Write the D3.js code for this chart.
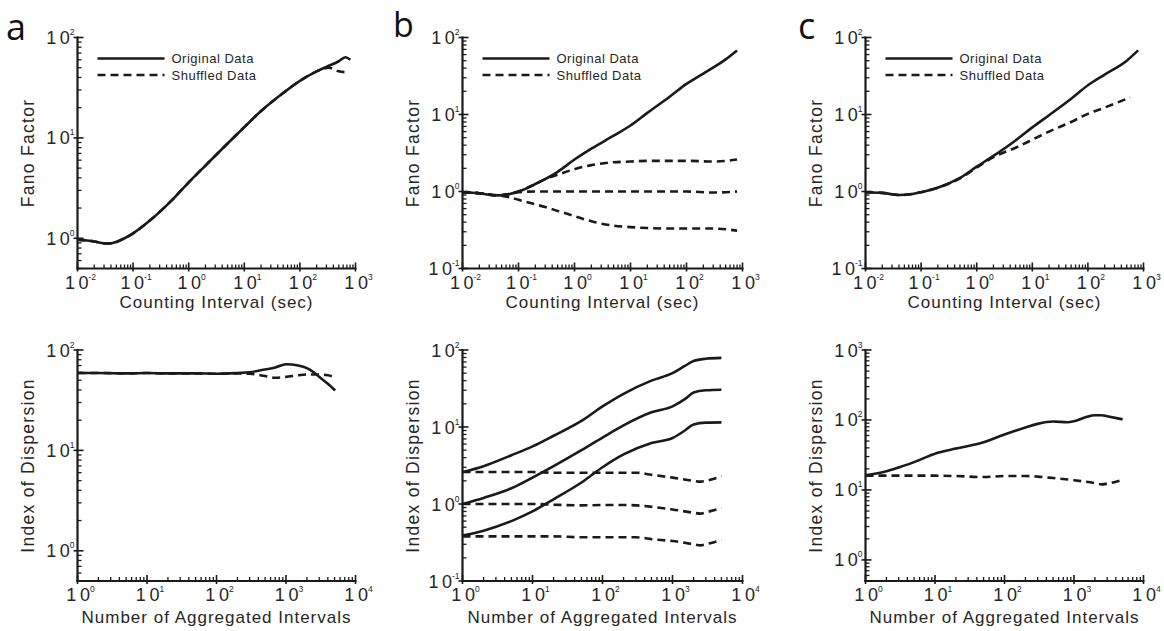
<!DOCTYPE html>
<html><head><meta charset="utf-8">
<script src="https://cdn.jsdelivr.net/npm/d3@7"></script>
<style>
body{margin:0;background:#fff;}
svg{display:block;font-family:"Liberation Sans",Arial,sans-serif;}
</style></head>
<body><svg id="c" width="1164" height="631"></svg>
<script>
// ---------------- DATA ----------------
const panelLetters = ["a", "b", "c"];
const legendLabels = ["Original Data", "Shuffled Data"];
const topXTitle = "Counting Interval (sec)";
const topYTitle = "Fano Factor";
const botXTitle = "Number of Aggregated Intervals";
const botYTitle = "Index of Dispersion";
const topXDomain = [0.01, 1000];
const botXDomain = [1, 10000];
const topXExps = [-2, -1, 0, 1, 2, 3];
const botXExps = [0, 1, 2, 3, 4];
const yDomains = [[0.5, 100], [0.1, 100], [0.1, 100], [0.5, 100], [0.1, 100], [0.5, 1000]];
const yExps = [[0, 1, 2], [-1, 0, 1, 2], [-1, 0, 1, 2], [0, 1, 2], [-1, 0, 1, 2], [0, 1, 2, 3]];

// panel a, Fano factor
const aTopOrigX = [0.01,0.015,0.02,0.03,0.04,0.05,0.07,0.1,0.2,0.5,1,2,5,10,20,50,100,200,300,500,660,810];
const aTopOrigY = [0.97,0.95,0.93,0.89,0.89,0.92,1.0,1.12,1.5,2.4,3.6,5.3,8.8,12.8,18.5,28,37,46,51,58,63.5,60];
const aTopShufX = [0.01,0.015,0.02,0.03,0.04,0.05,0.07,0.1,0.2,0.5,1,2,5,10,20,50,100,200,330,500,710];
const aTopShufY = [0.97,0.95,0.93,0.89,0.89,0.92,1.0,1.12,1.5,2.4,3.6,5.3,8.8,12.8,18.5,28,37,46,50,46,45];
// panel b, Fano factor
const bTopOrigX = [0.01,0.02,0.03,0.045,0.07,0.1,0.2,0.5,1,2,5,10,20,50,100,200,500,800];
const bTopOrigY = [0.98,0.95,0.91,0.89,0.93,1.0,1.25,1.8,2.6,3.6,5.3,7.2,10.5,17,25,34,52,68];
const bTopShufHighX = [0.01,0.02,0.03,0.045,0.07,0.1,0.2,0.3,0.5,1,2,5,10,20,50,100,300,500,800];
const bTopShufHighY = [0.98,0.95,0.91,0.89,0.93,1.0,1.25,1.45,1.65,1.95,2.2,2.4,2.45,2.5,2.5,2.5,2.45,2.5,2.6];
const bTopShufMidX = [0.01,0.02,0.03,0.045,0.07,0.1,0.2,0.5,1,10,100,300,800];
const bTopShufMidY = [0.98,0.95,0.91,0.89,0.93,0.98,1.0,1.0,1.0,1.0,1.0,0.97,1.0];
const bTopShufLowX = [0.01,0.02,0.03,0.045,0.07,0.1,0.2,0.3,0.5,1,2,5,10,20,50,100,300,800];
const bTopShufLowY = [0.98,0.95,0.91,0.89,0.84,0.78,0.68,0.63,0.56,0.48,0.41,0.36,0.345,0.335,0.33,0.33,0.33,0.31];
// panel c, Fano factor
const cTopOrigX = [0.01,0.02,0.04,0.07,0.1,0.2,0.5,1,2,5,10,20,50,100,200,500,800];
const cTopOrigY = [0.98,0.96,0.9,0.93,0.98,1.12,1.5,2.1,2.9,4.6,6.8,9.8,16,24,33,50,68];
const cTopShufX = [0.01,0.02,0.04,0.07,0.1,0.2,0.5,1,2,5,10,20,50,100,200,575];
const cTopShufY = [0.98,0.96,0.9,0.93,0.98,1.12,1.48,2.05,2.8,3.7,4.7,6.0,8.0,10.2,12.3,16.7];
// panel a, index of dispersion
const aBotOrigX = [1,2,5,10,20,50,100,200,300,500,700,1000,1500,2000,2500,3000,4000,5100];
const aBotOrigY = [59,59,58.5,59,58.5,58.5,58,59,60,64,67,72,70,66,60,54,46,39.5];
const aBotShufX = [1,2,5,10,20,50,100,200,300,500,700,1000,1500,2000,3000,4000,5000];
const aBotShufY = [59,59,58.5,59,58.5,58.5,58,58.5,58,55,53,54,56,57,57,56,54];
// panel b, index of dispersion
const bBotOrigX = [1,2,5,10,20,50,100,200,500,1000,1500,2000,3000,5000];
const bBotOrigHighY = [2.6,3.1,4.3,5.6,7.7,12,18.5,27,40,50,62,72,77,79];
const bBotOrigMidY = [1.0,1.2,1.6,2.2,3.1,5.0,7.3,10.5,15.5,18.5,23,28,30,30.5];
const bBotOrigLowY = [0.39,0.45,0.6,0.8,1.15,1.9,3.0,4.4,6.2,7.2,9,10.8,11.4,11.5];
const bBotShufX = [1,2,5,10,20,50,100,200,300,500,1000,2000,2500,3000,5000];
const bBotShufHighY = [2.6,2.6,2.6,2.6,2.55,2.55,2.55,2.55,2.55,2.4,2.2,2.0,1.95,2.0,2.3];
const bBotShufMidY = [1.0,1.0,1.0,1.0,0.98,0.96,0.97,0.97,0.96,0.92,0.85,0.77,0.75,0.78,0.88];
const bBotShufLowY = [0.38,0.38,0.38,0.38,0.38,0.37,0.37,0.37,0.37,0.35,0.33,0.3,0.29,0.3,0.34];
// panel c, index of dispersion
const cBotOrigX = [1,2,3,5,10,20,50,100,200,300,500,800,1000,1500,2000,2500,3000,5000];
const cBotOrigY = [16.2,18.5,21,25,33,39,48,62,78,88,95,93,96,110,117,117,113,102];
const cBotShufX = [1,10,20,50,100,200,300,500,1000,2000,2500,3000,5000];
const cBotShufY = [16,16,15.8,15.3,15.8,15.8,15.5,14.8,13.8,12.5,12,12.3,14];

// ---------------- LAYOUT ----------------
const cols = [[77.5, 355.5], [462.5, 742.5], [865.5, 1143.5]];
const rows = [[37.5, 268.5], [350, 581]];
const INK = "#1a1a1a", TXT = "#262626";

const svg = d3.select("#c");

const zip = (xs, ys) => xs.map((x, i) => [x, ys[i]]);

const panels = [
  {col:0,row:0, xd:topXDomain, xe:topXExps, yi:0, series:[[aTopOrigX,aTopOrigY,false],[aTopShufX,aTopShufY,true]], legend:true},
  {col:1,row:0, xd:topXDomain, xe:topXExps, yi:1, series:[[bTopShufHighX,bTopShufHighY,true],[bTopShufMidX,bTopShufMidY,true],[bTopShufLowX,bTopShufLowY,true],[bTopOrigX,bTopOrigY,false]], legend:true},
  {col:2,row:0, xd:topXDomain, xe:topXExps, yi:2, series:[[cTopShufX,cTopShufY,true],[cTopOrigX,cTopOrigY,false]], legend:true},
  {col:0,row:1, xd:botXDomain, xe:botXExps, yi:3, series:[[aBotShufX,aBotShufY,true],[aBotOrigX,aBotOrigY,false]]},
  {col:1,row:1, xd:botXDomain, xe:botXExps, yi:4, series:[[bBotShufX,bBotShufHighY,true],[bBotShufX,bBotShufMidY,true],[bBotShufX,bBotShufLowY,true],[bBotOrigX,bBotOrigHighY,false],[bBotOrigX,bBotOrigMidY,false],[bBotOrigX,bBotOrigLowY,false]]},
  {col:2,row:1, xd:botXDomain, xe:botXExps, yi:5, series:[[cBotShufX,cBotShufY,true],[cBotOrigX,cBotOrigY,false]]}
];

function minorValues(domain) {
  const out = [];
  const e0 = Math.floor(Math.log10(domain[0])), e1 = Math.ceil(Math.log10(domain[1]));
  for (let e = e0; e < e1; e++) for (let m = 2; m <= 9; m++) {
    const v = m * Math.pow(10, e);
    if (v >= domain[0] * 0.999 && v <= domain[1] * 1.001) out.push(v);
  }
  return out;
}

function powLabel(sel, exp, anchor) {
  const t = sel.append("text").attr("text-anchor", anchor).attr("fill", TXT);
  t.append("tspan").attr("font-size", 18).text("1");
  t.append("tspan").attr("font-size", 18).attr("dx", 3.5).text("0");
  t.append("tspan").attr("font-size", 8.5).attr("dy", -9).text(String(exp));
  return t;
}

panels.forEach(p => {
  const [x0, x1] = cols[p.col];
  const [y0, y1] = rows[p.row];
  const x = d3.scaleLog().domain(p.xd).range([x0, x1]);
  const y = d3.scaleLog().domain(yDomains[p.yi]).range([y1, y0]);
  const g = svg.append("g");

  // axes lines
  g.append("line").attr("x1", x0).attr("x2", x0).attr("y1", y0 - 1).attr("y2", y1 + 1)
    .attr("stroke", INK).attr("stroke-width", 2.2);
  g.append("line").attr("x1", x0 - 1).attr("x2", x1 + 1).attr("y1", y1).attr("y2", y1)
    .attr("stroke", INK).attr("stroke-width", 2.2);

  // minor ticks
  minorValues(p.xd).forEach(v => {
    g.append("line").attr("x1", x(v)).attr("x2", x(v)).attr("y1", y1).attr("y2", y1 - 4)
      .attr("stroke", INK).attr("stroke-width", 1.3);
  });
  minorValues(yDomains[p.yi]).forEach(v => {
    g.append("line").attr("y1", y(v)).attr("y2", y(v)).attr("x1", x0).attr("x2", x0 + 4)
      .attr("stroke", INK).attr("stroke-width", 1.3);
  });
  // major ticks + labels
  p.xe.forEach(e => {
    const v = Math.pow(10, e);
    g.append("line").attr("x1", x(v)).attr("x2", x(v)).attr("y1", y1 + 3).attr("y2", y1 - 6)
      .attr("stroke", INK).attr("stroke-width", 1.6);
    powLabel(g, e, "middle").attr("x", x(v) + 3).attr("y", y1 + 20);
  });
  yExps[p.yi].forEach(e => {
    const v = Math.pow(10, e);
    g.append("line").attr("y1", y(v)).attr("y2", y(v)).attr("x1", x0 - 4).attr("x2", x0 + 6)
      .attr("stroke", INK).attr("stroke-width", 1.6);
    powLabel(g, e, "end").attr("x", x0 - 3).attr("y", y(v) + 6.5);
  });

  // titles
  g.append("text").attr("x", (x0 + x1) / 2).attr("y", p.row === 0 ? y1 + 39 : y1 + 42)
    .attr("text-anchor", "middle").attr("font-size", 17).attr("letter-spacing", 1)
    .attr("fill", TXT).text(p.row === 0 ? topXTitle : botXTitle);
  g.append("text").attr("transform", `translate(${x0 - 44},${(y0 + y1) / 2}) rotate(-90)`)
    .attr("text-anchor", "middle").attr("font-size", 17.5).attr("letter-spacing", 1.3)
    .attr("fill", TXT).text(p.row === 0 ? topYTitle : botYTitle);

  // lines
  const line = d3.line().x(d => x(d[0])).y(d => y(d[1])).curve(d3.curveMonotoneX);
  p.series.forEach(([xs, ys, dashed]) => {
    g.append("path").attr("d", line(zip(xs, ys))).attr("fill", "none")
      .attr("stroke", INK).attr("stroke-width", 2.6)
      .attr("stroke-dasharray", dashed ? "8,5" : null)
      .attr("stroke-linejoin", "round");
  });

  // legend
  if (p.legend) {
    const lx = x0 + 20, lw = 67;
    [[58.5, false], [75, true]].forEach(([ly, dashed], i) => {
      g.append("line").attr("x1", lx).attr("x2", lx + lw).attr("y1", ly).attr("y2", ly)
        .attr("stroke", INK).attr("stroke-width", 2.6)
        .attr("stroke-dasharray", dashed ? "8,5" : null);
      g.append("text").attr("x", lx + lw + 7).attr("y", ly + 4.5).attr("font-size", 13)
        .attr("letter-spacing", 0.5).attr("fill", TXT).text(legendLabels[i]);
    });
  }
});

// panel letters
const letterPos = [[6, 40, 36], [393, 37, 34], [798, 39, 36]];
panelLetters.forEach((l, i) => {
  svg.append("text").attr("x", letterPos[i][0]).attr("y", letterPos[i][1])
    .attr("font-family", "'Open Sans', 'DejaVu Sans', sans-serif")
    .attr("font-size", letterPos[i][2]).attr("fill", "#111").text(l);
});
</script></body></html>
